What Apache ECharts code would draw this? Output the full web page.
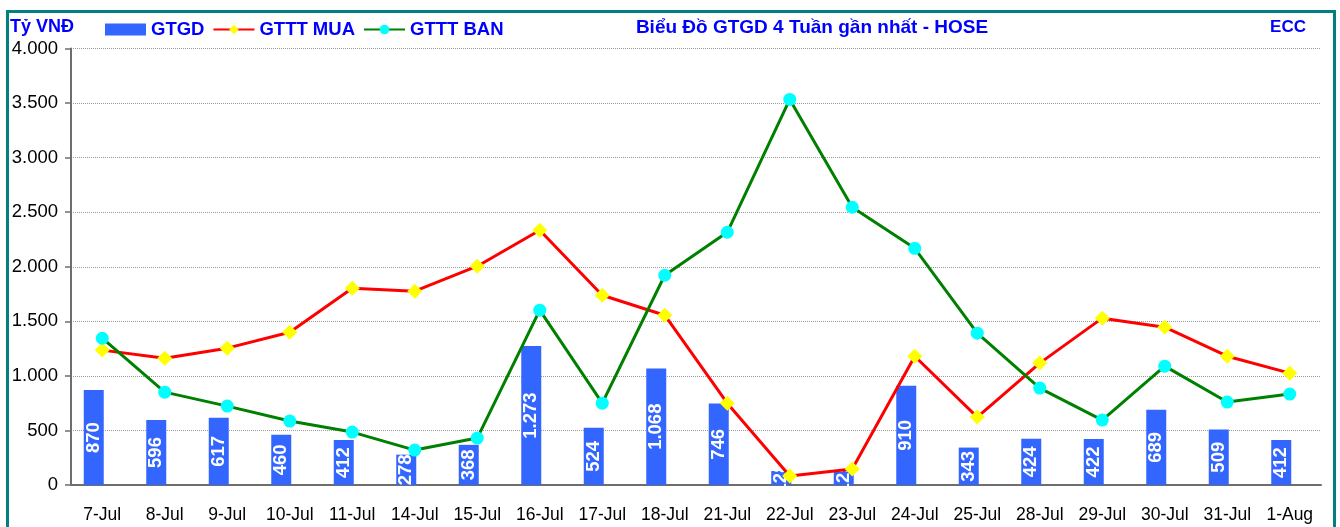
<!DOCTYPE html>
<html>
<head>
<meta charset="utf-8">
<script src="https://cdn.jsdelivr.net/npm/echarts@6/dist/echarts.min.js"></script>
<style>
  html, body { margin: 0; padding: 0; background: #fff; }
  #mychart { width: 1340px; height: 527px; }
</style>
</head>
<body>
<div id="mychart"></div>
<script>
// dữ liệu
const days = ['7-Jul', '8-Jul', '9-Jul', '10-Jul', '11-Jul', '14-Jul', '15-Jul', '16-Jul', '17-Jul', '18-Jul',
  '21-Jul', '22-Jul', '23-Jul', '24-Jul', '25-Jul', '28-Jul', '29-Jul', '30-Jul', '31-Jul', '1-Aug'];
const gtgd = [870, 596, 617, 460, 412, 278, 368, 1273, 524, 1068,
  746, 128, 129, 910, 343, 424, 422, 689, 509, 412];
const gtttMua = [1236, 1162, 1254, 1400, 1803, 1776, 2005, 2334, 1739, 1556,
  750, 82, 146, 1180, 622, 1117, 1529, 1446, 1180, 1025];
const gtttBan = [1345, 851, 723, 586, 485, 320, 430, 1602, 750, 1922,
  2316, 3533, 2545, 2169, 1391, 888, 595, 1089, 760, 833];
const yTicks = [0, 500, 1000, 1500, 2000, 2500, 3000, 3500, 4000];

const font = '"Liberation Sans", Arial, sans-serif';
const colors = {
  bar: '#3366ff',
  title: '#0000ff',
  mua: '#ff0000',
  muaDot: '#ffff00',
  ban: '#008000',
  banDot: '#00ffff',
  border: '#008080',
  grid: '#9a9a9a',
  axis: '#6e6e6e',
};

// 1234 -> "1.234"
function dotFmt(v) {
  return String(v).replace(/\B(?=(\d{3})+(?!\d))/g, '.');
}

let myChart = echarts.init(document.getElementById('mychart'));

let option = {
  animation: false,
  backgroundColor: '#fff',
  textStyle: { fontFamily: font },
  graphic: [
    {
      type: 'rect',
      shape: { x: 7.5, y: 11.5, width: 1327, height: 540 },
      style: { fill: 'none', stroke: colors.border, lineWidth: 3 },
      silent: true,
    },
    {
      type: 'text',
      left: 10,
      top: 18,
      style: { text: 'Tỷ VNĐ', fill: colors.title, font: 'bold 18px ' + font },
    },
    {
      type: 'text',
      x: 812,
      y: 18,
      style: {
        text: 'Biểu Đồ GTGD 4 Tuần gần nhất - HOSE',
        fill: colors.title,
        font: 'bold 19px ' + font,
        textAlign: 'center',
      },
    },
    {
      type: 'text',
      x: 1306,
      y: 19,
      style: { text: 'ECC', fill: colors.title, font: 'bold 17px ' + font, textAlign: 'right' },
    },
  ],
  legend: {
    data: [{ name: 'GTGD', icon: 'rect' }, 'GTTT MUA', 'GTTT BAN'],
    left: 100,
    top: 15,
    itemWidth: 41,
    itemHeight: 12,
    itemGap: 8,
    textStyle: { color: colors.title, fontWeight: 'bold', fontSize: 18.5, fontFamily: font },
  },
  grid: { left: 71, right: 19, top: 48.5, bottom: 42 },
  xAxis: {
    type: 'category',
    data: days,
    axisTick: { show: false },
    axisLine: { lineStyle: { color: colors.axis, width: 2 } },
    axisLabel: { color: '#000', fontSize: 17.5, margin: 21, interval: 0 },
  },
  yAxis: {
    type: 'value',
    min: 0,
    max: yTicks[yTicks.length - 1],
    interval: yTicks[1] - yTicks[0],
    axisLine: { show: true, lineStyle: { color: colors.axis, width: 2 } },
    axisTick: { show: true, length: 6, lineStyle: { color: colors.axis, width: 1.5 } },
    axisLabel: { color: '#000', fontSize: 18.5, margin: 13, formatter: (v) => dotFmt(v) },
    splitLine: { lineStyle: { color: colors.grid, type: 'dotted', width: 1 } },
  },
  series: [
    {
      name: 'GTGD',
      type: 'bar',
      data: gtgd,
      barWidth: 20,
      itemStyle: { color: colors.bar },
      label: {
        show: true,
        position: 'inside',
        rotate: 90,
        color: '#fff',
        fontWeight: 'bold',
        fontSize: 18.5,
        formatter: (p) => dotFmt(p.value),
      },
    },
    {
      // cột rỗng để lệch cột GTGD sang trái như bản gốc
      name: 'pad',
      type: 'bar',
      data: days.map(() => null),
      barWidth: 17,
      barGap: 0,
      silent: true,
    },
    {
      name: 'GTTT MUA',
      type: 'line',
      data: gtttMua,
      symbol: 'diamond',
      symbolSize: 15,
      lineStyle: { color: colors.mua, width: 3 },
      itemStyle: { color: colors.muaDot, borderWidth: 0 },
      z: 3,
    },
    {
      name: 'GTTT BAN',
      type: 'line',
      data: gtttBan,
      symbol: 'circle',
      symbolSize: 13,
      lineStyle: { color: colors.ban, width: 3 },
      itemStyle: { color: colors.banDot, borderWidth: 0 },
      z: 4,
    },
  ],
};

myChart.setOption(option);
</script>
</body>
</html>
